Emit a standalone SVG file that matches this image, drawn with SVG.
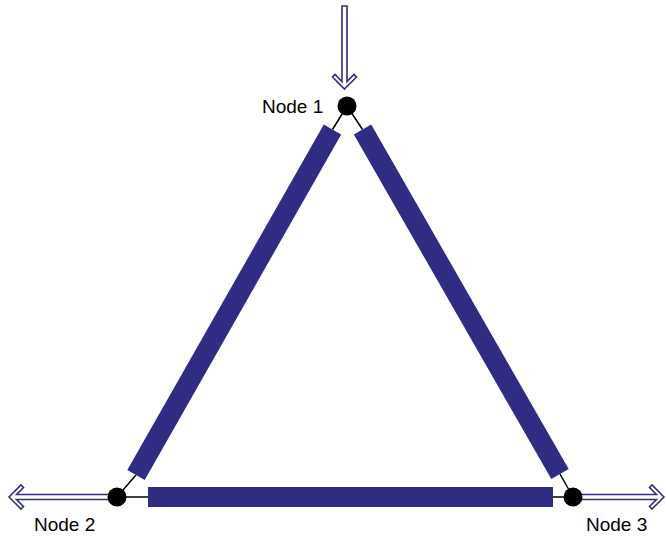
<svg xmlns="http://www.w3.org/2000/svg" width="666" height="536" viewBox="0 0 666 536">
  <style>
    .bar { stroke: #302c84; stroke-width: 20; stroke-linecap: butt; fill: none; }
    .link { stroke: #000; stroke-width: 1.5; fill: none; }
    .arrow { fill: #fff; stroke: #302c84; stroke-width: 1.6; stroke-linejoin: miter; }
    .node { fill: #000; }
    .label { font-family: "Liberation Sans", Arial, sans-serif; font-size: 19px; fill: #000; }
  </style>
  <rect width="666" height="536" fill="#fff"/>
  <g id="connectors">
    <line class="link" x1="347" y1="106" x2="332.5" y2="129.5"/>
    <line class="link" x1="347" y1="106" x2="362.5" y2="129.5"/>
    <line class="link" x1="117" y1="497" x2="136" y2="475"/>
    <line class="link" x1="117" y1="497" x2="148" y2="497"/>
    <line class="link" x1="573" y1="497" x2="553" y2="497"/>
    <line class="link" x1="573" y1="497" x2="560" y2="474"/>
    <line id="bar-1-2" class="bar" x1="332.5" y1="129.5" x2="136" y2="475"/>
    <line id="bar-1-3" class="bar" x1="362.5" y1="129.5" x2="560" y2="474"/>
    <line id="bar-2-3" class="bar" x1="148" y1="497" x2="553" y2="497"/>
  </g>
  <g id="loads">
    <!-- arrow pointing down into Node 1 -->
    <path class="arrow" transform="translate(344.5,89) rotate(90)" d="M0,0 L-12,-12 L-14.5,-9.5 L-7.5,-2.5 L-83,-2.5 L-83,2.5 L-7.5,2.5 L-14.5,9.5 L-12,12 Z"/>
    <!-- arrow pointing left from Node 2 -->
    <path class="arrow" transform="translate(9,497) rotate(180)" d="M0,0 L-12,-12 L-14.5,-9.5 L-7.5,-2.5 L-100,-2.5 L-100,2.5 L-7.5,2.5 L-14.5,9.5 L-12,12 Z"/>
    <!-- arrow pointing right from Node 3 -->
    <path class="arrow" transform="translate(664,497)" d="M0,0 L-12,-12 L-14.5,-9.5 L-7.5,-2.5 L-84,-2.5 L-84,2.5 L-7.5,2.5 L-14.5,9.5 L-12,12 Z"/>
  </g>
  <g id="node1">
    <circle class="node" cx="347" cy="106" r="9.5"/>
    <text class="label" x="262" y="112.5">Node 1</text>
  </g>
  <g id="node2">
    <circle class="node" cx="117" cy="497" r="9.5"/>
    <text class="label" x="34" y="530.5">Node 2</text>
  </g>
  <g id="node3">
    <circle class="node" cx="573" cy="497" r="9.5"/>
    <text class="label" x="586" y="530.5">Node 3</text>
  </g>
</svg>
